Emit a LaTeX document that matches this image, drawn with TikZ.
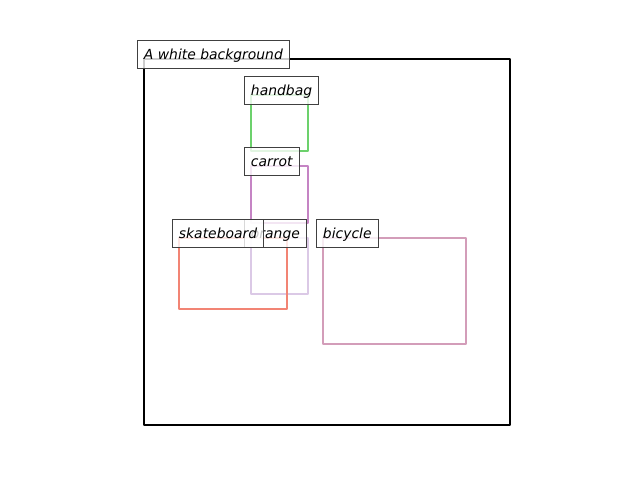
\documentclass[tikz,border=0pt]{standalone}
\usepackage{fontspec}
\setmainfont{DejaVu Sans}
\usetikzlibrary{positioning}
\definecolor{bagGreen}{HTML}{6CD16C}
\definecolor{carrotPurple}{HTML}{C584C4}
\definecolor{orangeLav}{HTML}{DBC9E6}
\definecolor{skateRed}{HTML}{F28474}
\definecolor{bikePink}{HTML}{D39DB9}
\definecolor{tagEdge}{HTML}{404040}

\begin{document}
\begin{tikzpicture}[x=1pt, y=-1pt,
    objbox/.style={line width=2.8pt, line join=round},
    tag/.style={anchor=west, draw=tagEdge, line width=0.9pt,
      fill=white, fill opacity=0.8, text opacity=1, draw opacity=1, inner xsep=6.5pt,
      minimum height=28pt, text height=12pt, text depth=1.5pt,
      font=\fontsize{13.9}{16}\selectfont\itshape}]
        \useasboundingbox (0,0) rectangle (640,480);
        % boxes
        \draw[objbox, black] (144,59) rectangle (510,425);
        \draw[objbox, bagGreen] (251,95) rectangle (308,151);
        \draw[objbox, carrotPurple] (251,166) rectangle (308,223);
        \draw[objbox, orangeLav] (251,238) rectangle (308,294);
        \draw[objbox, skateRed] (179,238) rectangle (287,309);
        \draw[objbox, bikePink] (323,238) rectangle (466,344);
        % labels
        \node[tag] (bg) at (137,54) {A white background};
        \node[tag] (handbag) at (244,90) {handbag};
        \node[tag] (carrot) at (244,161) {carrot};
        \node[tag] (orange) at (244,233) {orange};
        \node[tag] (skate) at (172,233) {skateboard};
        \node[tag] (bike) at (316,233) {bicycle};
      \end{tikzpicture}
\end{document}
